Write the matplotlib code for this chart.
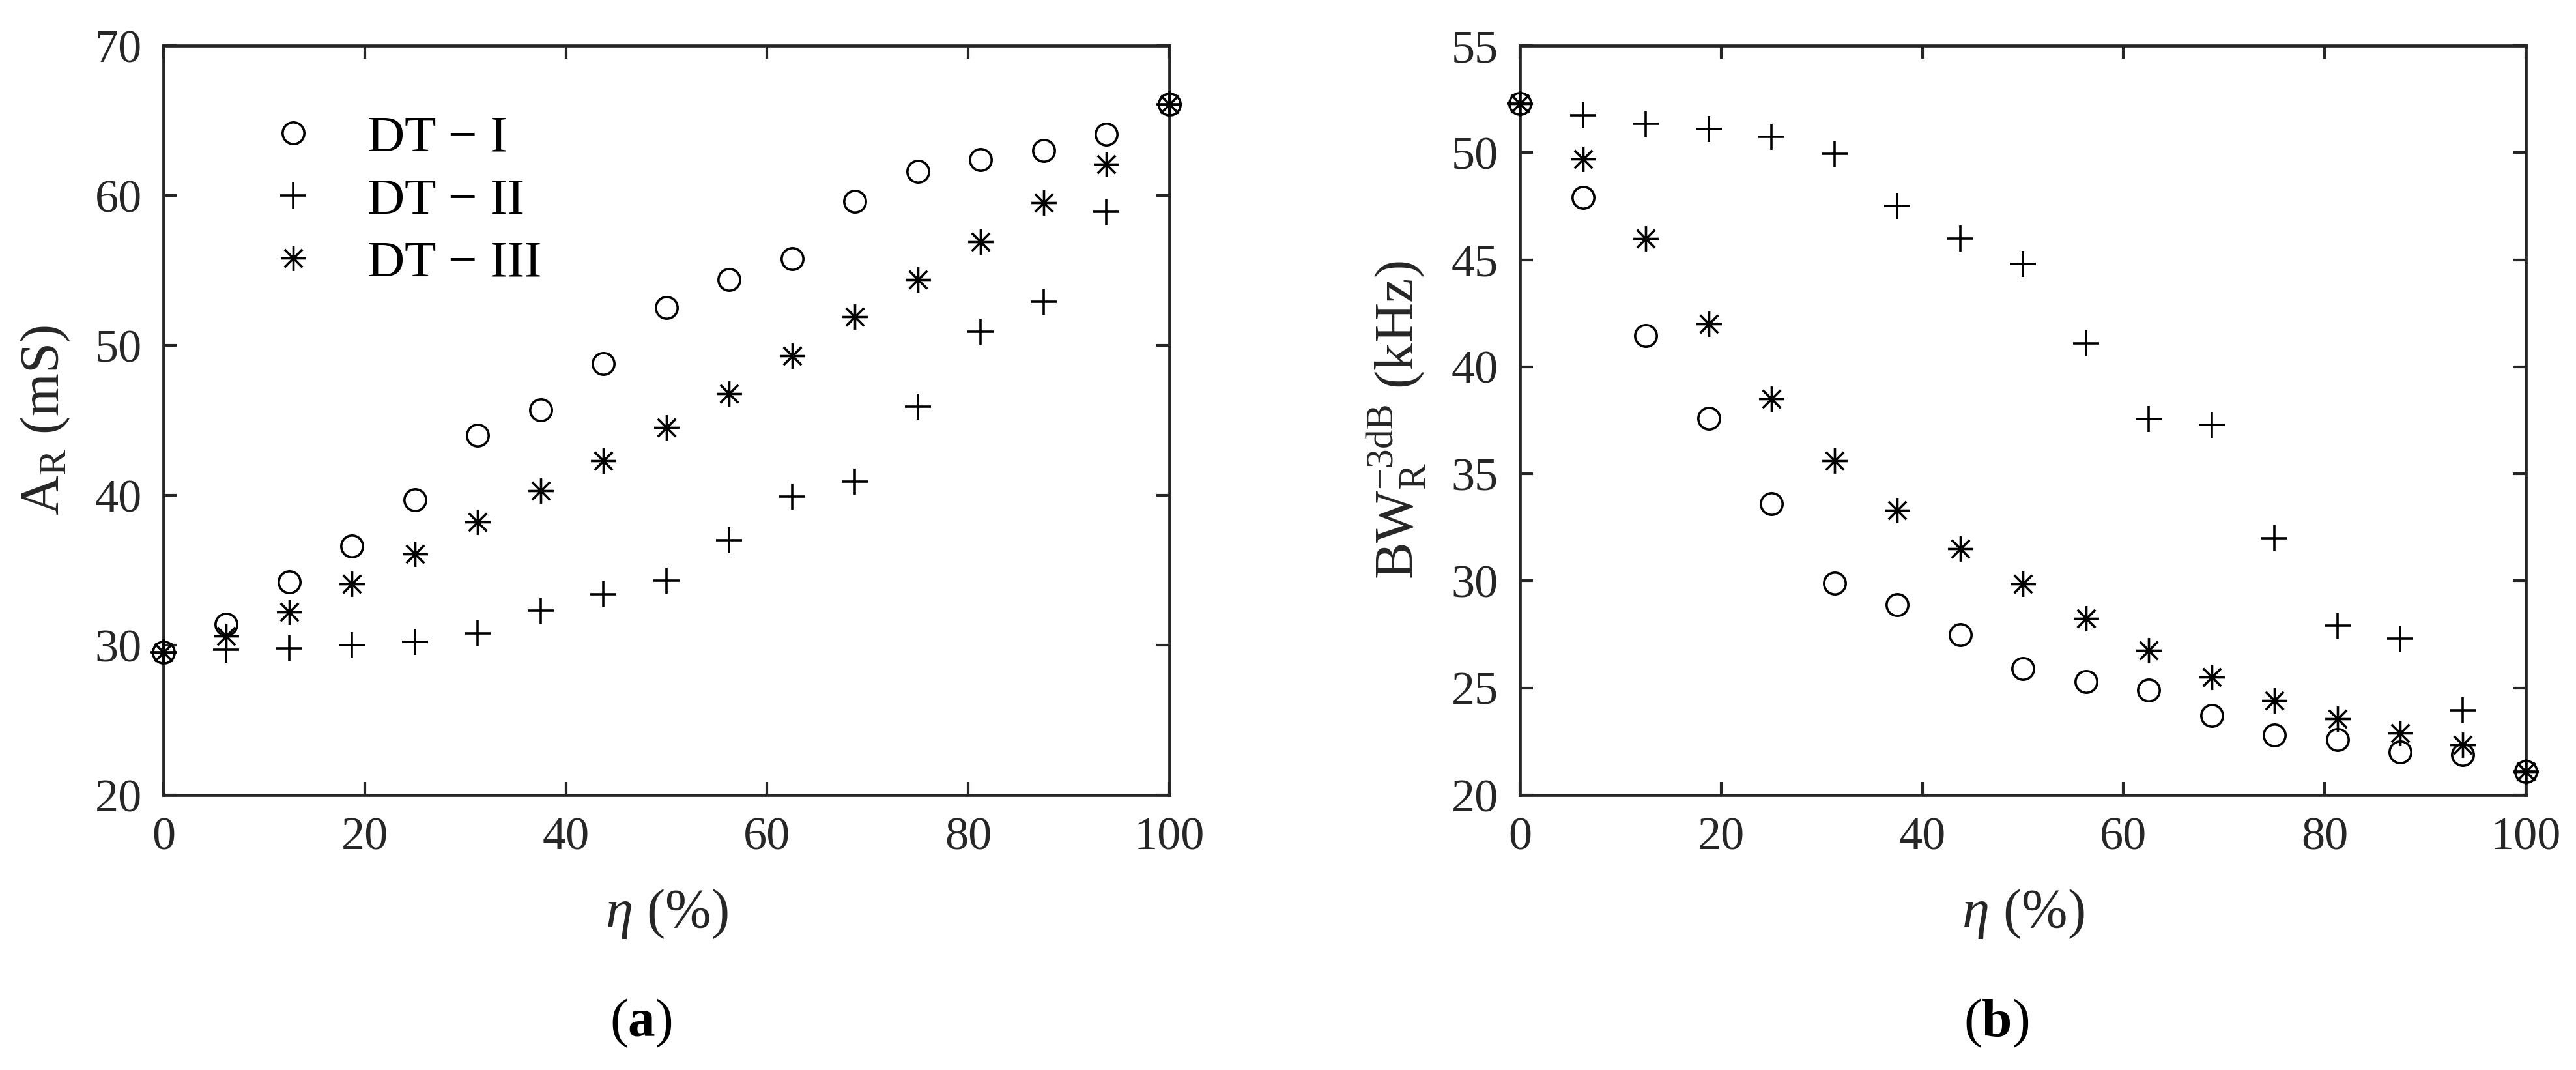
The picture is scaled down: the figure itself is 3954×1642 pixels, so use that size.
import matplotlib
matplotlib.use('Agg')
import matplotlib.pyplot as plt
from matplotlib.path import Path

plt.rcParams.update({
    'font.family': ['Liberation Serif', 'DejaVu Serif'],
    'mathtext.fontset': 'custom',
    'mathtext.rm': 'Liberation Serif',
    'mathtext.it': 'Liberation Serif:italic',
    'mathtext.bf': 'Liberation Serif:bold',
})

# ---- data ----
eta = [0, 6.25, 12.5, 18.75, 25, 31.25, 37.5, 43.75, 50,
       56.25, 62.5, 68.75, 75, 81.25, 87.5, 93.75, 100]

ar_dt1 = [29.5, 31.4, 34.2, 36.6, 39.7, 44.0, 45.7, 48.8, 52.5,
          54.4, 55.8, 59.6, 61.6, 62.4, 63.0, 64.1, 66.1]
ar_dt2 = [29.5, 29.7, 29.8, 30.0, 30.2, 30.8, 32.3, 33.4, 34.3,
          37.0, 39.9, 40.9, 45.9, 50.9, 52.9, 58.9, 66.1]
ar_dt3 = [29.5, 30.6, 32.2, 34.1, 36.1, 38.2, 40.3, 42.3, 44.5,
          46.8, 49.3, 51.9, 54.4, 56.9, 59.5, 62.1, 66.1]

bw_dt1 = [52.3, 47.9, 41.45, 37.6, 33.6, 29.9, 28.9, 27.5, 25.9,
          25.3, 24.9, 23.7, 22.8, 22.6, 22.0, 21.9, 21.1]
bw_dt2 = [52.3, 51.75, 51.35, 51.1, 50.75, 49.95, 47.5, 46.0, 44.8,
          41.1, 37.55, 37.3, 32.0, 27.9, 27.3, 23.95, 21.1]
bw_dt3 = [52.3, 49.7, 46.0, 42.0, 38.5, 35.6, 33.3, 31.5, 29.85,
          28.25, 26.75, 25.5, 24.4, 23.55, 22.9, 22.35, 21.1]

labels = ['DT \u2212 I', 'DT \u2212 II', 'DT \u2212 III']
xticks = [0, 20, 40, 60, 80, 100]
yticks_a = [20, 30, 40, 50, 60, 70]
yticks_b = [20, 25, 30, 35, 40, 45, 50, 55]

# ---- styling ----
FS = 52      # tick labels
LFS = 61     # axis labels
GFS = 57     # legend
CFS = 60     # captions
AX_C = '#262626'
d = 0.7071
star = Path([(-1, 0), (1, 0), (0, -1), (0, 1), (-d, -d), (d, d), (-d, d), (d, -d)],
            [Path.MOVETO, Path.LINETO] * 4)
styles = [dict(marker='o', ms=24, mew=2.6, mfc='none', mec='black'),
          dict(marker='+', ms=29, mew=2.6, mec='black'),
          dict(marker=star, ms=28, mew=2.6, mfc='none', mec='black')]

fig = plt.figure(figsize=(39.55, 16.42), dpi=100)
W, H = 3955, 1642
axA = fig.add_axes([251 / W, 1 - 1220 / H, 1544 / W, 1150 / H])
axB = fig.add_axes([2333 / W, 1 - 1220 / H, 1544 / W, 1150 / H])


def style_ax(ax, yt, ylim):
    ax.set_xlim(0, 100)
    ax.set_ylim(*ylim)
    ax.set_xticks(xticks)
    ax.set_yticks(yt)
    for s in ax.spines.values():
        s.set_linewidth(3.4)
        s.set_color(AX_C)
    ax.tick_params(direction='in', length=14.5, width=3.0, colors=AX_C,
                   labelsize=FS, pad=24, top=True, right=True)


for ax, ys in ((axA, (ar_dt1, ar_dt2, ar_dt3)), (axB, (bw_dt1, bw_dt2, bw_dt3))):
    for y, st, lab in zip(ys, styles, labels):
        ax.plot(eta, y, linestyle='none', label=lab, clip_on=False, zorder=3, **st)

style_ax(axA, yticks_a, (20, 70))
style_ax(axB, yticks_b, (20, 55))

for ax in (axA, axB):
    ax.set_xlabel(r'$\eta$ (%)', fontsize=LFS, color=AX_C)
    ax.xaxis.set_label_coords(0.5, -(1363 - 1220) / 1150)

axA.set_ylabel(r'$\mathrm{A_R}$ (mS)', fontsize=LFS, color=AX_C)
axA.yaxis.set_label_coords(-141 / 1544, 0.5)
axB.set_ylabel(r'$\mathrm{BW_R^{-3dB}}$ (kHz)', fontsize=LFS, color=AX_C)
axB.yaxis.set_label_coords(-141 / 1544, 0.5)

leg = axA.legend(loc='upper left', bbox_to_anchor=((410 - 251) / 1544, 1 - (176 - 70) / 1150),
                 frameon=False, fontsize=GFS, handlelength=1.0, handletextpad=0.95,
                 labelspacing=0.3, borderpad=0, borderaxespad=0)
for t in leg.get_texts():
    t.set_color('black')

fig.text(984 / W, 1 - 1570 / H, r'($\mathbf{a}$)', fontsize=CFS, ha='center', va='center')
fig.text(3064 / W, 1 - 1570 / H, r'($\mathbf{b}$)', fontsize=CFS, ha='center', va='center')

fig.savefig('out.png', dpi=100)
